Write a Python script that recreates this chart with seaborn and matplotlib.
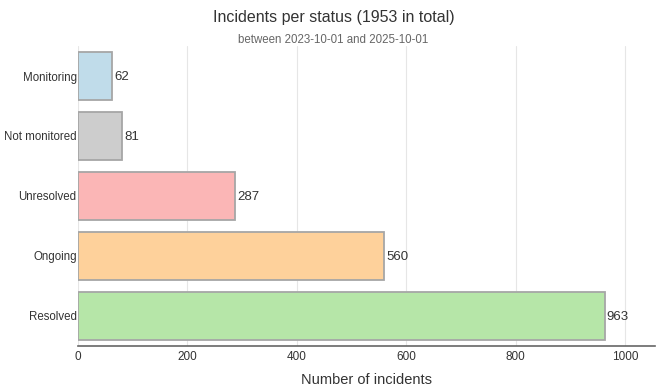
import matplotlib
matplotlib.use("Agg")
import matplotlib.pyplot as plt
import seaborn as sns
import pandas as pd

statuses = ["Monitoring", "Not monitored", "Unresolved", "Ongoing", "Resolved"]
counts = [62, 81, 287, 560, 963]
colors = ["#c0dcea", "#cdcdcd", "#fbb6b6", "#fed19b", "#b6e6a8"]
title = "Incidents per status (1953 in total)"
subtitle = "between 2023-10-01 and 2025-10-01"
xlabel = "Number of incidents"

sns.set_theme(style="whitegrid")
plt.rcParams["font.family"] = ["Liberation Sans", "DejaVu Sans"]

df = pd.DataFrame({"status": statuses, "count": counts})

fig = plt.figure(figsize=(6.67, 3.9), dpi=100)
ax = fig.add_axes([0.117, 0.113, 0.865, 0.769])
sns.barplot(data=df, y="status", x="count", hue="status", palette=colors,
            order=statuses, legend=False, ax=ax, width=0.8,
            edgecolor="#a6a6a6", linewidth=1.3, saturation=1)

for p, v in zip(ax.patches, counts):
    ax.text(p.get_width() + 4, p.get_y() + p.get_height() / 2 + 0.02, f"{v}",
            va="center", ha="left", fontsize=9.5, color="#333333")

ax.set_xlim(0, 1055)
ax.set_ylim(4.5, -0.5)
ax.set_xticks([0, 200, 400, 600, 800, 1000])
ax.grid(axis="x", color="#e6e6e6", linewidth=0.8)
ax.grid(axis="y", visible=False)
for s in ["left", "right", "top"]:
    ax.spines[s].set_visible(False)
ax.spines["bottom"].set_color("#666666")
ax.spines["bottom"].set_linewidth(1.2)
ax.tick_params(axis="x", labelsize=8.5, colors="#333333", length=0, pad=4)
ax.tick_params(axis="y", labelsize=8.3, colors="#333333", length=0, pad=1)
ax.set_ylabel("")
ax.set_xlabel(xlabel, fontsize=10.5, color="#333333", labelpad=7)

fig.text(0.5, 0.955, title, ha="center", va="center", fontsize=11.5, color="#333333")
fig.text(0.5, 0.898, subtitle, ha="center", va="center", fontsize=8.3, color="#666666")

fig.savefig("out.png", dpi=100)
